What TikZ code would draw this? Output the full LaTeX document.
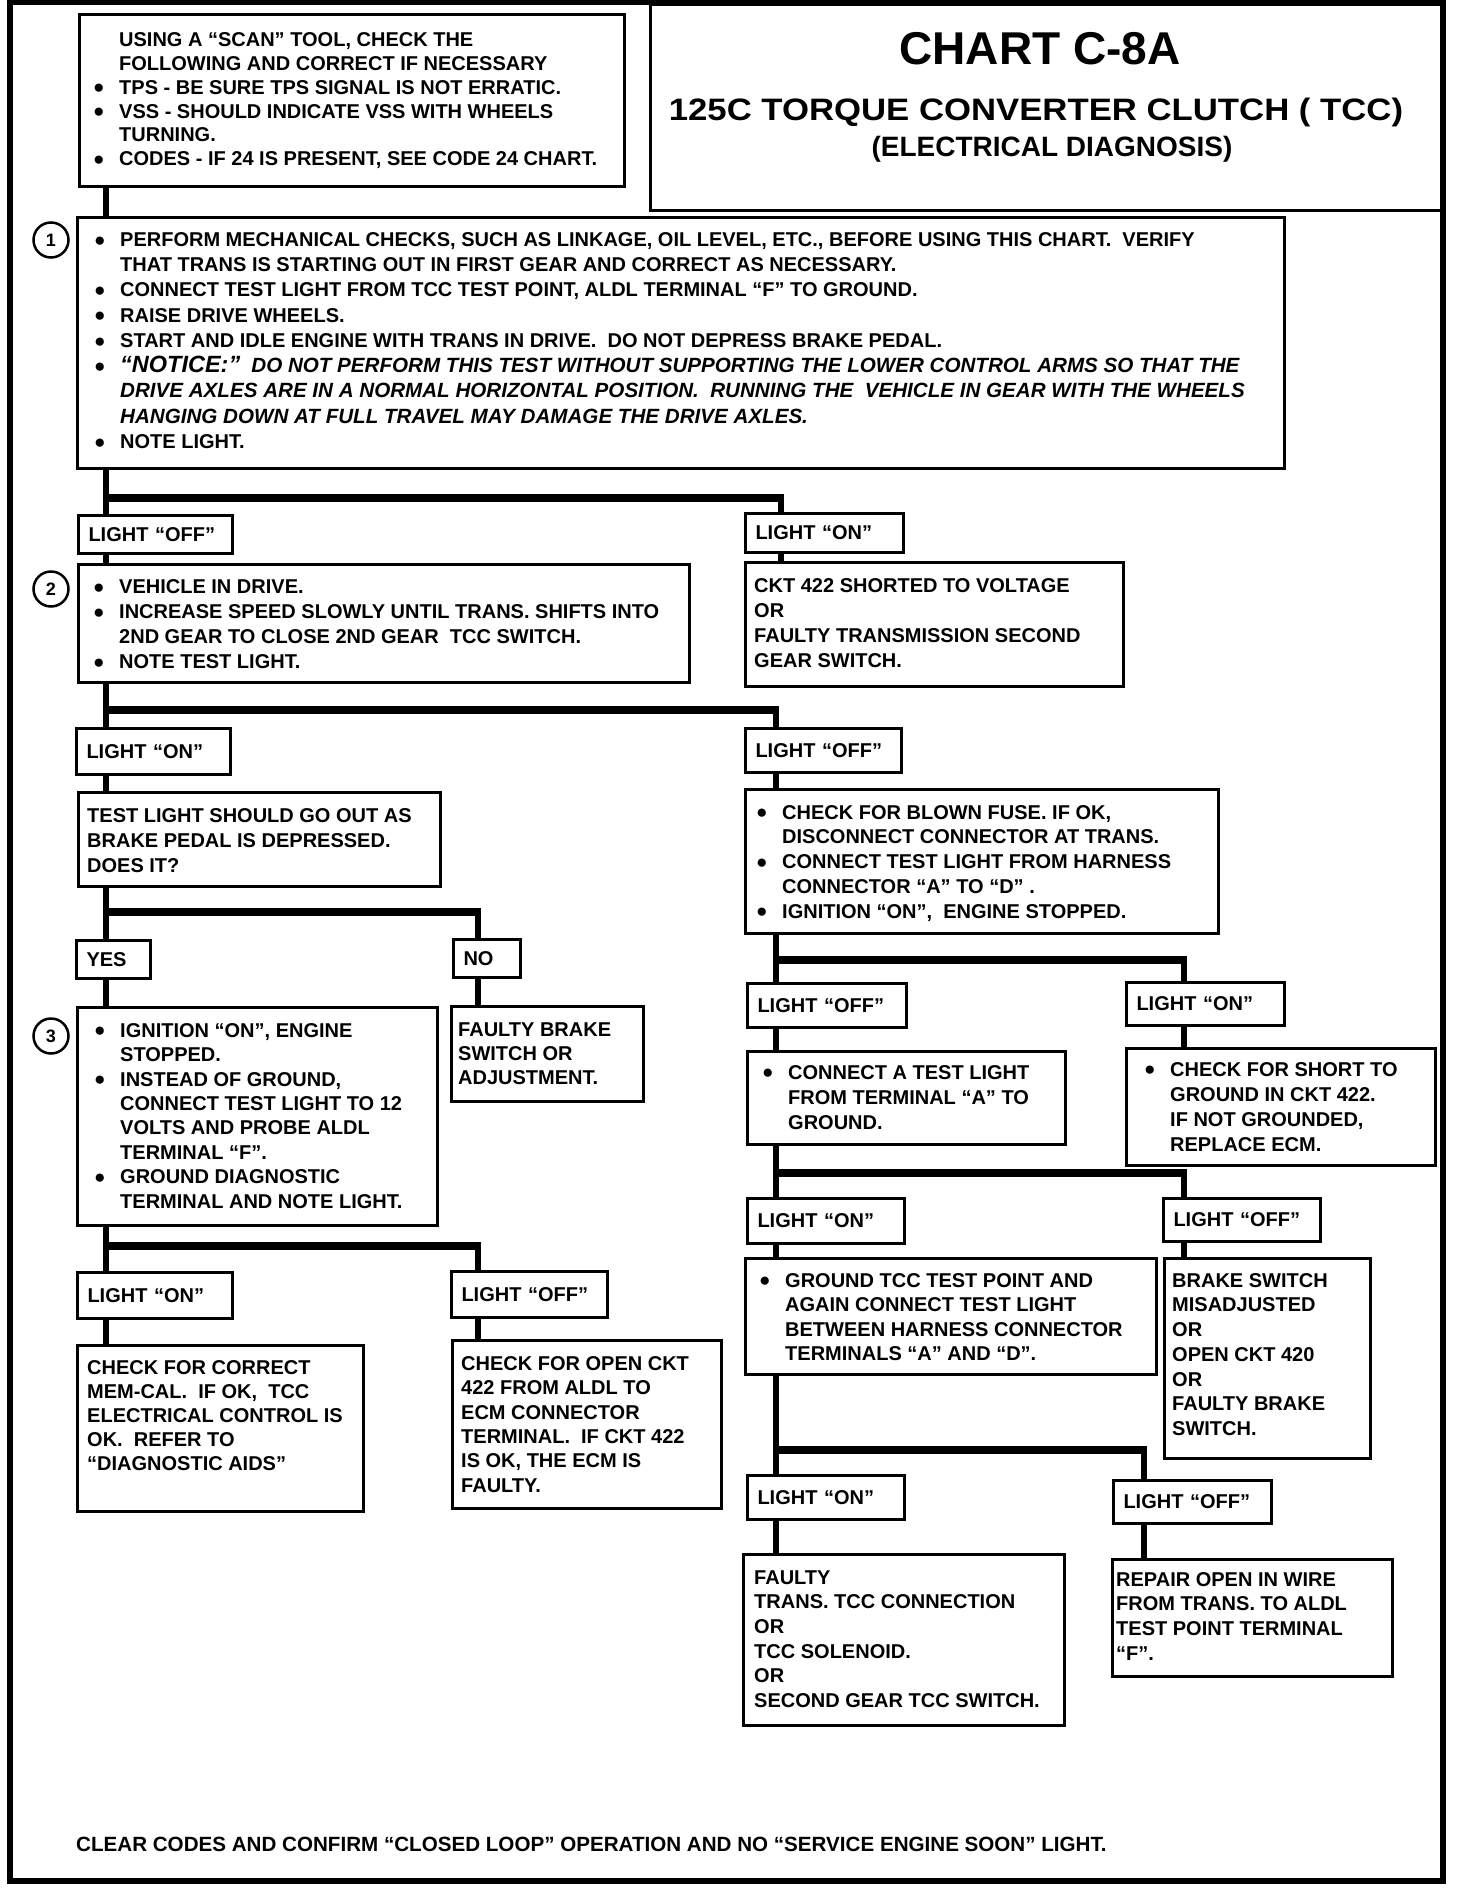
\documentclass[tikz,border=0pt]{standalone}
\usepackage{fontspec}
\setmainfont{Liberation Sans}
\usepackage{graphicx}
\newcommand\st{\rule{0pt}{17pt}}
\newcommand\bu{\makebox[26pt][l]{\raisebox{0.4pt}{\fontsize{19}{19}\selectfont ●}}}
\newcommand\ind{\hspace*{26pt}}
\newcommand\bodyfont{\fontsize{20}{24.5}\selectfont\bfseries}
\newcommand\bx[5]{\node[box, minimum width={(#4)-(#2)}, minimum height={(#5)-(#3)}] (#1) at (#2,#3) {};}
\newcommand\lb[6]{\pgfmathsetmacro\lbw{#4-#2-20}%
  \node[box, inner xsep=10pt, text width=\lbw pt, align=left, minimum height={(#5)-(#3)}, font=\bodyfont] (#1) at (#2,#3) {#6};}
\tikzset{
  box/.style={draw, line width=3pt, inner sep=0pt, anchor=north west},
  txt/.style={anchor=north west, inner sep=0pt, align=left, font=\fontsize{20}{#1}\selectfont\bfseries},
  txt/.default=24.5,
  vline/.style={line width=6pt},
  barline/.style={line width=8pt},
  num/.style={draw, circle, line width=2.5pt, minimum size=35pt, inner sep=0pt, font=\fontsize{18}{18}\selectfont\bfseries},
}
\begin{document}
\begin{tikzpicture}[x=1pt,y=-1pt]
\useasboundingbox (0,0) rectangle (1456,1892);
\fill[white] (0,0) rectangle (1456,1892);
\draw[line width=5.5pt] (10,2.5) rectangle (1443,1881);
% title block
\node[box, minimum width=794, minimum height=206] (T) at (649,3) {};
\node[anchor=base, inner sep=0pt, font=\fontsize{46}{46}\selectfont\bfseries] (tt1) at (1040,65) {CHART C-8A};
\node[anchor=base, inner sep=0pt, font=\fontsize{31}{31}\selectfont\bfseries] (tt2) at (1036,121) {\scalebox{1.12}[1]{125C TORQUE CONVERTER CLUTCH ( TCC)}};
\node[anchor=base, inner sep=0pt, font=\fontsize{28}{28}\selectfont\bfseries] (tt3) at (1052,157) {(ELECTRICAL DIAGNOSIS)};
% boxes
\bx{A}{78}{13}{623}{185}
\bx{B1}{76}{216}{1283}{467}
\lb{LOFF1}{77}{514}{231}{552}{LIGHT “OFF”}
\lb{LON1}{744}{512}{902}{551}{LIGHT “ON”}
\bx{B2}{77}{563}{688}{681}
\bx{CKT}{744}{561}{1122}{685}
\lb{LON2}{75}{727}{229}{773}{LIGHT “ON”}
\lb{LOFF2}{744}{727}{900}{771}{LIGHT “OFF”}
\bx{TL}{77}{791}{439}{885}
\bx{BF}{744}{788}{1217}{932}
\lb{YES}{75}{939}{149}{977}{YES}
\lb{NO}{452}{938}{519}{976}{NO}
\bx{B3}{76}{1006}{436}{1224}
\bx{FB}{450}{1005}{642}{1100}
\lb{LOFF3}{746}{982}{905}{1026}{LIGHT “OFF”}
\lb{LON3}{1125}{981}{1283}{1024}{LIGHT “ON”}
\bx{CA}{746}{1050}{1064}{1143}
\bx{CS}{1125}{1047}{1434}{1164}
\lb{LON4}{746}{1197}{903}{1242}{LIGHT “ON”}
\lb{LOFF4}{1162}{1197}{1319}{1240}{LIGHT “OFF”}
\bx{GT}{744}{1257}{1155}{1373}
\bx{BS}{1163}{1257}{1369}{1457}
\lb{LON5}{76}{1271}{231}{1317}{LIGHT “ON”}
\lb{LOFF5}{450}{1270}{606}{1316}{LIGHT “OFF”}
\bx{CC}{76}{1344}{362}{1510}
\bx{CO}{451}{1339}{720}{1507}
\lb{LON6}{746}{1474}{903}{1518}{LIGHT “ON”}
\lb{LOFF6}{1112}{1479}{1270}{1522}{LIGHT “OFF”}
\bx{FT}{742}{1553}{1063}{1724}
\bx{RP}{1111}{1558}{1391}{1675}
% step numbers
\node[num] (n1) at (51,240) {1};
\node[num] (n2) at (51,589) {2};
\node[num] (n3) at (51,1036) {3};
% texts
\node[txt=23.8] (tA) at (93,29.5) {\st\ind USING A “SCAN” TOOL, CHECK THE\\
\ind FOLLOWING AND CORRECT IF NECESSARY\\
\bu TPS - BE SURE TPS SIGNAL IS NOT ERRATIC.\\
\bu VSS - SHOULD INDICATE VSS WITH WHEELS\\
\ind TURNING.\\
\bu CODES - IF 24 IS PRESENT, SEE CODE 24 CHART.};
\node[txt=25.25] (t1) at (94,229.2) {\st\bu PERFORM MECHANICAL CHECKS, SUCH AS LINKAGE, OIL LEVEL, ETC., BEFORE USING THIS CHART.\ \ VERIFY\\
\ind THAT TRANS IS STARTING OUT IN FIRST GEAR AND CORRECT AS NECESSARY.\\
\bu CONNECT TEST LIGHT FROM TCC TEST POINT, ALDL TERMINAL “F” TO GROUND.\\
\bu RAISE DRIVE WHEELS.\\
\bu START AND IDLE ENGINE WITH TRANS IN DRIVE.\ \ DO NOT DEPRESS BRAKE PEDAL.\\
\bu {\itshape\fontsize{23.5}{25.25}\selectfont “NOTICE:”}\ \ {\itshape\fontsize{20.6}{25.25}\selectfont DO NOT PERFORM THIS TEST WITHOUT SUPPORTING THE LOWER CONTROL ARMS SO THAT THE}\\
\ind {\itshape\fontsize{20.6}{25.25}\selectfont DRIVE AXLES ARE IN A NORMAL HORIZONTAL POSITION.\ \ RUNNING THE\ \ VEHICLE IN GEAR WITH THE WHEELS}\\
\ind {\itshape\fontsize{20.6}{25.25}\selectfont HANGING DOWN AT FULL TRAVEL MAY DAMAGE THE DRIVE AXLES.}\\
\bu NOTE LIGHT.};
\node[txt=25] (t2) at (93,576.2) {\st\bu VEHICLE IN DRIVE.\\
\bu INCREASE SPEED SLOWLY UNTIL TRANS. SHIFTS INTO\\
\ind 2ND GEAR TO CLOSE 2ND GEAR\ \ TCC SWITCH.\\
\bu NOTE TEST LIGHT.};
\node[txt=25] (tCKT) at (754,575.2) {\st CKT 422 SHORTED TO VOLTAGE\\
OR\\
FAULTY TRANSMISSION SECOND\\
GEAR SWITCH.};
\node[txt=25.2] (tTL) at (87,805) {\st TEST LIGHT SHOULD GO OUT AS\\
BRAKE PEDAL IS DEPRESSED.\\
DOES IT?};
\node[txt=24.75] (tBF) at (756,802) {\st\bu CHECK FOR BLOWN FUSE. IF OK,\\
\ind DISCONNECT CONNECTOR AT TRANS.\\
\bu CONNECT TEST LIGHT FROM HARNESS\\
\ind CONNECTOR “A” TO “D” .\\
\bu IGNITION “ON”,\ \ ENGINE STOPPED.};
\node[txt=24.4] (tB3) at (94,1020) {\st\bu IGNITION “ON”, ENGINE\\
\ind STOPPED.\\
\bu INSTEAD OF GROUND,\\
\ind CONNECT TEST LIGHT TO 12\\
\ind VOLTS AND PROBE ALDL\\
\ind TERMINAL “F”.\\
\bu GROUND DIAGNOSTIC\\
\ind TERMINAL AND NOTE LIGHT.};
\node[txt=24] (tFB) at (458,1019) {\st FAULTY BRAKE\\
SWITCH OR\\
ADJUSTMENT.};
\node[txt=25] (tCA) at (762,1062) {\st\bu CONNECT A TEST LIGHT\\
\ind FROM TERMINAL “A” TO\\
\ind GROUND.};
\node[txt=25] (tCS) at (1144,1059) {\st\bu CHECK FOR SHORT TO\\
\ind GROUND IN CKT 422.\\
\ind IF NOT GROUNDED,\\
\ind REPLACE ECM.};
\node[txt=24.4] (tGT) at (759,1270) {\st\bu GROUND TCC TEST POINT AND\\
\ind AGAIN CONNECT TEST LIGHT\\
\ind BETWEEN HARNESS CONNECTOR\\
\ind TERMINALS “A” AND “D”.};
\node[txt=24.7] (tBS) at (1172,1270) {\st BRAKE SWITCH\\
MISADJUSTED\\
OR\\
OPEN CKT 420\\
OR\\
FAULTY BRAKE\\
SWITCH.};
\node[txt=24] (tCC) at (87,1357) {\st CHECK FOR CORRECT\\
MEM-CAL.\ \ IF OK,\ \ TCC\\
ELECTRICAL CONTROL IS\\
OK.\ \ REFER TO\\
“DIAGNOSTIC AIDS”};
\node[txt=24.4] (tCO) at (461,1353) {\st CHECK FOR OPEN CKT\\
422 FROM ALDL TO\\
ECM CONNECTOR\\
TERMINAL.\ \ IF CKT 422\\
IS OK, THE ECM IS\\
FAULTY.};
\node[txt=24.6] (tFT) at (754,1567) {\st FAULTY\\
TRANS. TCC CONNECTION\\
OR\\
TCC SOLENOID.\\
OR\\
SECOND GEAR TCC SWITCH.};
\node[txt=24.7] (tRP) at (1116,1569) {\st REPAIR OPEN IN WIRE\\
FROM TRANS. TO ALDL\\
TEST POINT TERMINAL\\
“F”.};
\node[txt, font=\fontsize{20.6}{24.5}\selectfont\bfseries] (tEnd) at (76,1834.5) {\st CLEAR CODES AND CONFIRM “CLOSED LOOP” OPERATION AND NO “SERVICE ENGINE SOON” LIGHT.};
% trunk x positions
\coordinate (xL) at (106,0);
\coordinate (xM) at (478,0);
\coordinate (xR) at (776,0);
\coordinate (xR1) at (781,0);
\coordinate (xRR) at (1184,0);
\coordinate (xR6) at (1144,0);
% junctions
\coordinate (j1) at (106,498);
\coordinate (j2) at (106,710);
\coordinate (j3) at (106,912);
\coordinate (j4) at (106,1246);
\coordinate (k1) at (776,960);
\coordinate (k2) at (776,1173);
\coordinate (k3) at (776,1450);
% connectors
\draw[vline] (A.south -| xL) -- (B1.north -| xL);
\draw[vline] (B1.south -| xL) -- (LOFF1.north -| xL);
\draw[barline] ([xshift=-3pt]j1) -- ([xshift=3pt]j1 -| xR1);
\draw[vline] (j1 -| xR1) -- (LON1.north -| xR1);
\draw[vline] (LOFF1.south -| xL) -- (B2.north -| xL);
\draw[vline] (LON1.south -| xR1) -- (CKT.north -| xR1);
\draw[vline] (B2.south -| xL) -- (LON2.north -| xL);
\draw[barline] ([xshift=-3pt]j2) -- ([xshift=3pt]j2 -| xR);
\draw[vline] (j2 -| xR) -- (LOFF2.north -| xR);
\draw[vline] (LON2.south -| xL) -- (TL.north -| xL);
\draw[vline] (LOFF2.south -| xR) -- (BF.north -| xR);
\draw[vline] (TL.south -| xL) -- (YES.north -| xL);
\draw[barline] ([xshift=-3pt]j3) -- ([xshift=3pt]j3 -| xM);
\draw[vline] (j3 -| xM) -- (NO.north -| xM);
\draw[vline] (YES.south -| xL) -- (B3.north -| xL);
\draw[vline] (NO.south -| xM) -- (FB.north -| xM);
\draw[vline] (B3.south -| xL) -- (LON5.north -| xL);
\draw[barline] ([xshift=-3pt]j4) -- ([xshift=3pt]j4 -| xM);
\draw[vline] (j4 -| xM) -- (LOFF5.north -| xM);
\draw[vline] (LON5.south -| xL) -- (CC.north -| xL);
\draw[vline] (LOFF5.south -| xM) -- (CO.north -| xM);
\draw[vline] (BF.south -| xR) -- (LOFF3.north -| xR);
\draw[barline] ([xshift=-3pt]k1) -- ([xshift=3pt]k1 -| xRR);
\draw[vline] (k1 -| xRR) -- (LON3.north -| xRR);
\draw[vline] (LOFF3.south -| xR) -- (CA.north -| xR);
\draw[vline] (LON3.south -| xRR) -- (CS.north -| xRR);
\draw[vline] (CA.south -| xR) -- (LON4.north -| xR);
\draw[barline] ([xshift=-3pt]k2) -- ([xshift=3pt]k2 -| xRR);
\draw[vline] (k2 -| xRR) -- (LOFF4.north -| xRR);
\draw[vline] (LON4.south -| xR) -- (GT.north -| xR);
\draw[vline] (LOFF4.south -| xRR) -- (BS.north -| xRR);
\draw[vline] (GT.south -| xR) -- (LON6.north -| xR);
\draw[barline] ([xshift=-3pt]k3) -- ([xshift=3pt]k3 -| xR6);
\draw[vline] (k3 -| xR6) -- (LOFF6.north -| xR6);
\draw[vline] (LON6.south -| xR) -- (FT.north -| xR);
\draw[vline] (LOFF6.south -| xR6) -- (RP.north -| xR6);
\end{tikzpicture}
\end{document}
